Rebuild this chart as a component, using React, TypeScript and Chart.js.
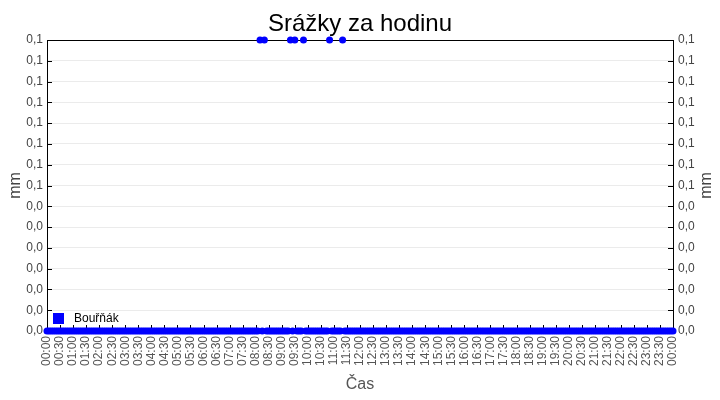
import React, { useEffect, useRef } from "react";
import { Chart, registerables } from "chart.js";

Chart.register(...registerables);

const chartTitle = "Srážky za hodinu";
const seriesName = "Bouřňák";
const xAxisTitle = "Čas";
const yAxisTitle = "mm";
const stepMinutes = 5;

// rainfall per 5 minutes, one row per hour (hh:00 .. hh:55), then 24:00
const rainfall = [
  0, 0, 0, 0, 0, 0, 0, 0, 0, 0, 0, 0, // 00
  0, 0, 0, 0, 0, 0, 0, 0, 0, 0, 0, 0, // 01
  0, 0, 0, 0, 0, 0, 0, 0, 0, 0, 0, 0, // 02
  0, 0, 0, 0, 0, 0, 0, 0, 0, 0, 0, 0, // 03
  0, 0, 0, 0, 0, 0, 0, 0, 0, 0, 0, 0, // 04
  0, 0, 0, 0, 0, 0, 0, 0, 0, 0, 0, 0, // 05
  0, 0, 0, 0, 0, 0, 0, 0, 0, 0, 0, 0, // 06
  0, 0, 0, 0, 0, 0, 0, 0, 0, 0, 0, 0, // 07
  0, 0, 0.1, 0, 0.1, 0, 0, 0, 0, 0, 0, 0, // 08
  0, 0, 0, 0, 0.1, 0, 0.1, 0, 0, 0, 0.1, 0, // 09
  0, 0, 0, 0, 0, 0, 0, 0, 0, 0, 0.1, 0, // 10
  0, 0, 0, 0, 0.1, 0, 0, 0, 0, 0, 0, 0, // 11
  0, 0, 0, 0, 0, 0, 0, 0, 0, 0, 0, 0, // 12
  0, 0, 0, 0, 0, 0, 0, 0, 0, 0, 0, 0, // 13
  0, 0, 0, 0, 0, 0, 0, 0, 0, 0, 0, 0, // 14
  0, 0, 0, 0, 0, 0, 0, 0, 0, 0, 0, 0, // 15
  0, 0, 0, 0, 0, 0, 0, 0, 0, 0, 0, 0, // 16
  0, 0, 0, 0, 0, 0, 0, 0, 0, 0, 0, 0, // 17
  0, 0, 0, 0, 0, 0, 0, 0, 0, 0, 0, 0, // 18
  0, 0, 0, 0, 0, 0, 0, 0, 0, 0, 0, 0, // 19
  0, 0, 0, 0, 0, 0, 0, 0, 0, 0, 0, 0, // 20
  0, 0, 0, 0, 0, 0, 0, 0, 0, 0, 0, 0, // 21
  0, 0, 0, 0, 0, 0, 0, 0, 0, 0, 0, 0, // 22
  0, 0, 0, 0, 0, 0, 0, 0, 0, 0, 0, 0, // 23
  0, // 24:00
];

const xTickLabels = [
  "00:00", "00:30", "01:00", "01:30", "02:00", "02:30", "03:00", "03:30",
  "04:00", "04:30", "05:00", "05:30", "06:00", "06:30", "07:00", "07:30",
  "08:00", "08:30", "09:00", "09:30", "10:00", "10:30", "11:00", "11:30",
  "12:00", "12:30", "13:00", "13:30", "14:00", "14:30", "15:00", "15:30",
  "16:00", "16:30", "17:00", "17:30", "18:00", "18:30", "19:00", "19:30",
  "20:00", "20:30", "21:00", "21:30", "22:00", "22:30", "23:00", "23:30",
  "00:00",
];
const xTickStepMinutes = 30;

// bottom to top
const yTickLabels = [
  "0,0", "0,0", "0,0", "0,0", "0,0", "0,0", "0,0",
  "0,1", "0,1", "0,1", "0,1", "0,1", "0,1", "0,1", "0,1",
];
const yMin = 0;
const yMax = 0.1;

const FONT = "'Liberation Sans', Arial, sans-serif";

const framePlugin = {
  id: "frame",
  beforeDatasetsDraw(chart: any) {
    const { ctx, chartArea } = chart;
    const { left, right, top, bottom } = chartArea;
    ctx.save();
    ctx.strokeStyle = "#000";
    ctx.lineWidth = 1;
    const xs = chart.scales.x;
    ctx.beginPath();
    xs.ticks.forEach((t: any) => {
      const px = Math.round(xs.getPixelForValue(t.value)) + 0.5;
      ctx.moveTo(px, bottom);
      ctx.lineTo(px, bottom - 6);
    });
    const ys = chart.scales.y;
    ys.ticks.forEach((t: any) => {
      const py = Math.round(ys.getPixelForValue(t.value)) + 0.5;
      ctx.moveTo(left, py);
      ctx.lineTo(left + 5, py);
      ctx.moveTo(right, py);
      ctx.lineTo(right - 5, py);
    });
    ctx.stroke();
    ctx.strokeRect(Math.round(left) + 0.5, Math.round(top) + 0.5, Math.round(right - left), Math.round(bottom - top));
    ctx.restore();
  },
  afterDraw(chart: any) {
    const { ctx, chartArea } = chart;
    ctx.save();
    ctx.translate(707, (chartArea.top + chartArea.bottom) / 2);
    ctx.rotate(-Math.PI / 2);
    ctx.font = `16px ${FONT}`;
    ctx.fillStyle = "#444";
    ctx.textAlign = "center";
    ctx.textBaseline = "middle";
    ctx.fillText(yAxisTitle, 0, 0);
    ctx.restore();
  },
};

const innerLegendPlugin = {
  id: "innerLegend",
  afterDatasetsDraw(chart: any) {
    const { ctx, chartArea } = chart;
    const ds = chart.data.datasets[0];
    const x = chartArea.left + 6;
    const y = chartArea.bottom - 18;
    ctx.save();
    ctx.fillStyle = ds.backgroundColor;
    ctx.fillRect(x, y, 11, 11);
    ctx.fillStyle = "#000";
    ctx.font = `12px ${FONT}`;
    ctx.textAlign = "left";
    ctx.textBaseline = "middle";
    ctx.fillText(ds.label, x + 21, y + 6);
    ctx.restore();
  },
};

export default function App() {
  const canvasRef = useRef<HTMLCanvasElement | null>(null);

  useEffect(() => {
    document.body.style.margin = "0";
    const canvas = canvasRef.current;
    if (!canvas) return;
    const yTickBuilder = (scale: any) => {
      scale.ticks = yTickLabels.map((_, i) => ({
        value: yMin + ((yMax - yMin) * i) / (yTickLabels.length - 1),
      }));
    };
    const yTickCallback = (_v: any, i: number) => yTickLabels[i];
    const chart = new Chart(canvas, {
      type: "scatter",
      data: {
        datasets: [
          {
            label: seriesName,
            data: rainfall.map((v, i) => ({ x: i * stepMinutes, y: v })),
            showLine: false,
            pointRadius: 3.5,
            pointHoverRadius: 3.5,
            pointBorderWidth: 0,
            pointBackgroundColor: "#0000ff",
            backgroundColor: "#0000ff",
            borderColor: "#0000ff",
            clip: false as any,
            yAxisID: "y",
          },
        ],
      },
      options: {
        responsive: false,
        animation: false,
        devicePixelRatio: 1,
        layout: { padding: 0 },
        events: [],
        plugins: {
          legend: { display: false },
          tooltip: { enabled: false },
          title: {
            display: true,
            text: chartTitle,
            color: "#000",
            font: { family: FONT, size: 24, weight: "normal" as any, lineHeight: 1.2 },
            padding: { top: 10, bottom: 1.2 },
          },
        },
        scales: {
          x: {
            type: "linear",
            min: 0,
            max: (xTickLabels.length - 1) * xTickStepMinutes,
            afterBuildTicks: (scale: any) => {
              scale.ticks = xTickLabels.map((_, i) => ({ value: i * xTickStepMinutes }));
            },
            afterFit: (scale: any) => {
              scale.height = 69;
            },
            grid: { display: false, drawTicks: false },
            border: { display: false },
            ticks: {
              autoSkip: false,
              minRotation: 90,
              maxRotation: 90,
              padding: 5,
              color: "#555",
              font: { family: FONT, size: 12 },
              callback: (_v: any, i: number) => xTickLabels[i],
            },
            title: {
              display: true,
              text: xAxisTitle,
              color: "#555",
              font: { family: FONT, size: 16 },
              padding: { top: 0, bottom: 6 },
            },
          },
          y: {
            type: "linear",
            position: "left",
            min: yMin,
            max: yMax,
            afterBuildTicks: yTickBuilder,
            afterFit: (scale: any) => {
              scale.width = 47;
            },
            grid: { color: "#ebebeb", drawTicks: false },
            border: { display: false },
            ticks: {
              padding: 4,
              color: "#444",
              font: { family: FONT, size: 12 },
              callback: yTickCallback,
            },
            title: {
              display: true,
              text: yAxisTitle,
              color: "#444",
              font: { family: FONT, size: 16 },
              padding: { top: 6, bottom: 0 },
            },
          },
          y1: {
            type: "linear",
            position: "right",
            min: yMin,
            max: yMax,
            afterBuildTicks: yTickBuilder,
            afterFit: (scale: any) => {
              scale.width = 47;
            },
            grid: { display: false, drawTicks: false },
            border: { display: false },
            ticks: {
              padding: 5,
              color: "#444",
              font: { family: FONT, size: 12 },
              callback: yTickCallback,
            },
          },
        },
      },
      plugins: [framePlugin, innerLegendPlugin],
    });
    return () => chart.destroy();
  }, []);

  return (
    <div style={{ width: 720, height: 400, background: "#fff" }}>
      <canvas ref={canvasRef} width={720} height={400} style={{ display: "block" }} />
    </div>
  );
}
